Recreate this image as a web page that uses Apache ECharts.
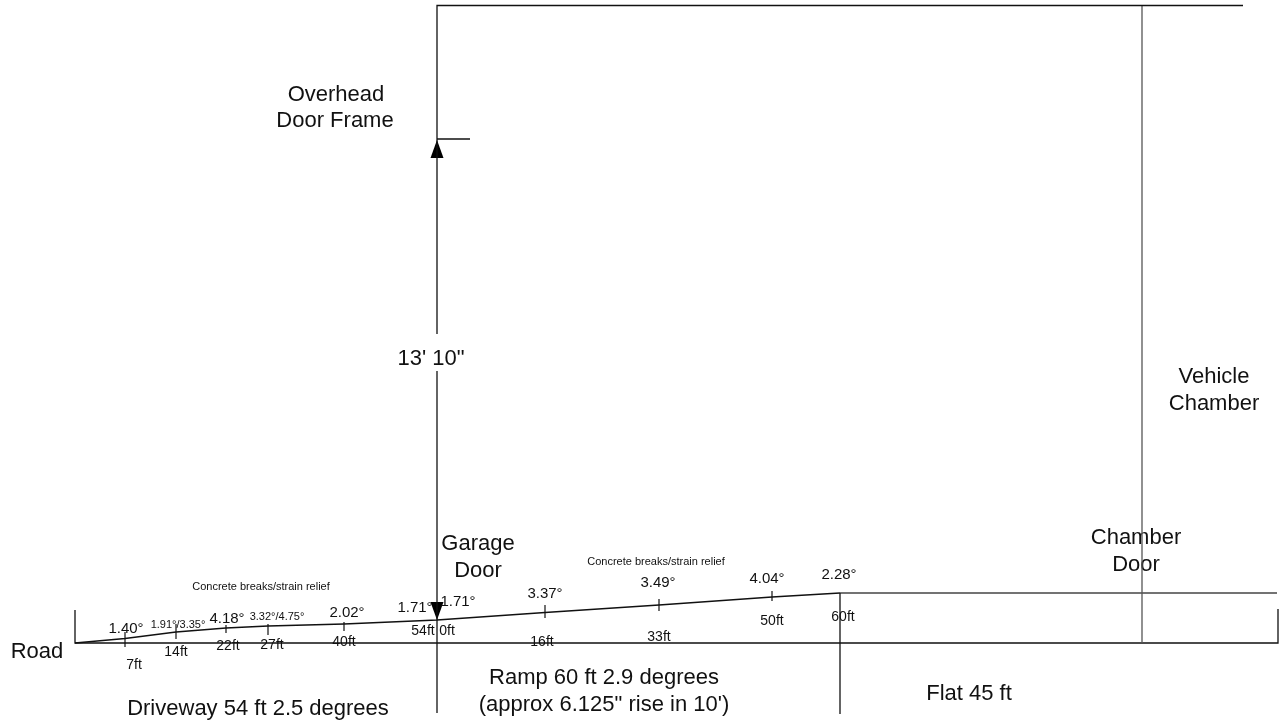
<!DOCTYPE html>
<html><head><meta charset="utf-8">
<style>html,body{margin:0;padding:0;background:#fff}#c{width:1285px;height:721px}</style>
<script src="https://cdn.jsdelivr.net/npm/echarts@6/dist/echarts.min.js"></script>
</head><body><div id="c"></div>
<script>
// Diagram units: x runs along the road, y runs downward from the top of the drawing.
const slabProfile = [[75,643],[125,638.5],[176,632],[226,628],[268,626],[344,624],[437,620],[545,612.5],[659,605],[772,597],[840,593]];
const roadLine = [[75,610],[75,643],[1278,643],[1278,609]];
const chamberFloor = [[840,593],[1277,593]];
const chamberWall = [[1142,6],[1142,643]];
const doorFrame = [[1243,5.5],[437,5.5],[437,334]];
const doorPost = [[437,371],[437,713]];
const frameMark = [[437,139],[470,139]];
const rampEnd = [[840,593],[840,714]];
const tickMarks = [
  [[125,632],[125,647]],[[176,624],[176,639]],[[226,625],[226,633]],[[268,624],[268,635]],
  [[344,622],[344,631]],[[545,605],[545,618]],[[659,599],[659,611]],[[772,591],[772,601]]
];
const arrowUp = [[437,149]];
const arrowDown = [[437,611]];
const largeLabels = [
  [37,652,'Road'],[336,95,'Overhead'],[335,121,'Door Frame'],[431,359,"13' 10\""],
  [478,544,'Garage'],[478,571,'Door'],[1136,538,'Chamber'],[1136,565,'Door'],
  [1214,377,'Vehicle'],[1214,404,'Chamber'],[258,709,'Driveway 54 ft 2.5 degrees'],
  [604,678,'Ramp 60 ft 2.9 degrees'],[604,705,"(approx 6.125\" rise in 10')"],[969,694,'Flat 45 ft']
];
const angleLabels = [
  [126,629,'1.40°'],[227,619,'4.18°'],[347,613,'2.02°'],[415,608,'1.71°'],[458,602,'1.71°'],
  [545,594,'3.37°'],[658,583,'3.49°'],[767,579,'4.04°'],[839,575,'2.28°']
];
const tightAngleLabels = [[178,625,'1.91°/3.35°'],[277,617,'3.32°/4.75°']];
const distanceLabels = [
  [134,665,'7ft'],[176,652,'14ft'],[228,646,'22ft'],[272,645,'27ft'],[344,642,'40ft'],
  [423,631,'54ft'],[447,631,'0ft'],[542,642,'16ft'],[659,637,'33ft'],[772,621,'50ft'],[843,617,'60ft']
];
const noteLabels = [[261,587,'Concrete breaks/strain relief'],[656,562,'Concrete breaks/strain relief']];

const FONT = '"Liberation Sans", Arial, sans-serif';
const path = (data, color, width) => ({type:'line', data, symbol:'none', silent:true, animation:false,
  lineStyle:{color, width, cap:'butt', join:'miter'}});
const texts = (data, size) => ({type:'scatter', data, symbolSize:0, silent:true, animation:false,
  itemStyle:{opacity:1},
  label:{show:true, position:'inside', formatter:p=>p.data[2], fontFamily:FONT, fontSize:size, color:'#111', opacity:1}});
const arrow = (data, rot) => ({type:'scatter', data, symbol:'triangle', symbolSize:[13,18], symbolRotate:rot,
  silent:true, animation:false, itemStyle:{color:'#000', opacity:1}});

const chart = echarts.init(document.getElementById('c'), null, {renderer:'canvas'});
chart.setOption({
  backgroundColor:'#fff', animation:false,
  grid:{left:0,right:0,top:0,bottom:0},
  xAxis:{type:'value',min:0,max:1285,show:false},
  yAxis:{type:'value',min:0,max:721,inverse:true,show:false},
  series:[
    path(roadLine,'#111',1.3), path(slabProfile,'#111',1.5), path(chamberFloor,'#444',1.5),
    path(chamberWall,'#555',1.3), path(doorFrame,'#111',1.3), path(doorPost,'#111',1.3), path(frameMark,'#111',1.3),
    path(rampEnd,'#111',1.3),
    ...tickMarks.map(t=>path(t,'#111',1.2)),
    arrow(arrowUp,0), arrow(arrowDown,180),
    texts(largeLabels,22), texts(angleLabels,15), texts(tightAngleLabels,11),
    texts(distanceLabels,14), texts(noteLabels,11)
  ]
});
</script></body></html>
